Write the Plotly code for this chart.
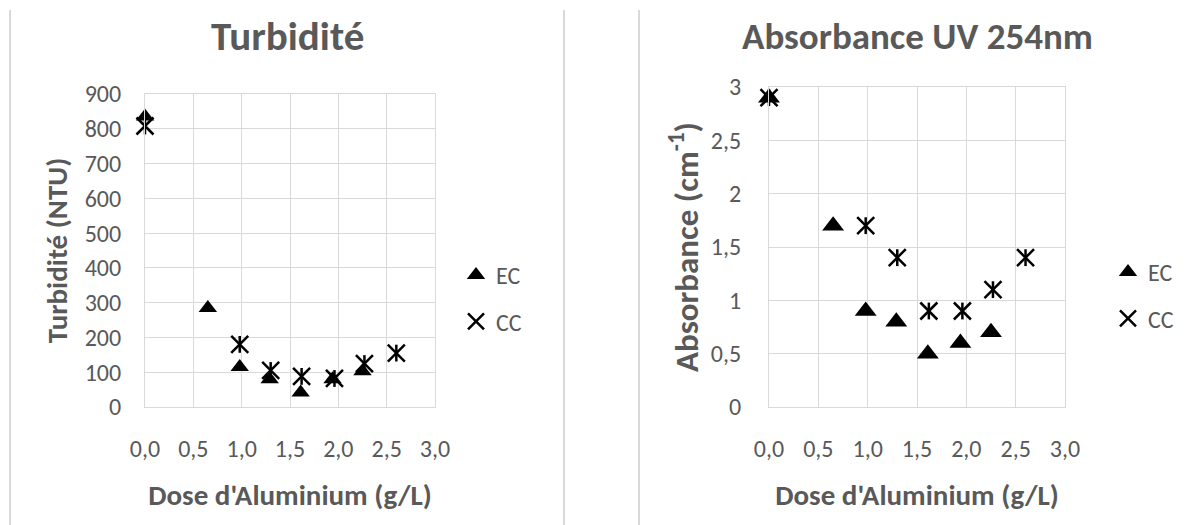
import plotly.graph_objects as go

# ---- data ----
dose_ec = [0.0, 0.65, 0.98, 1.29, 1.61, 1.94, 2.25]
dose_cc = [0.0, 0.98, 1.30, 1.62, 1.96, 2.27, 2.60]
turb_ec = [835, 285, 115, 80, 42, 80, 103]
turb_cc = [808, 180, 105, 88, 82, 125, 155]
abs_ec = [2.9, 1.7, 0.9, 0.8, 0.5, 0.6, 0.7]
abs_cc = [2.9, 1.7, 1.4, 0.9, 0.9, 1.1, 1.4]
x_ticks = [0.0, 0.5, 1.0, 1.5, 2.0, 2.5, 3.0]

W, H = 1189, 525
OFF = 8  # page body margin
GRAY = "#595959"
GRID = "#d9d9d9"
FONT = "Carlito, Open Sans, sans-serif"
TICK = 24

fig = go.Figure()

def add_series(xa, ya, leg, xs_ec, ys_ec, xs_cc, ys_cc, tri_size):
    fig.add_trace(go.Scatter(x=xs_ec, y=ys_ec, mode="markers", name="EC",
                             xaxis=xa, yaxis=ya, legend=leg, legendgroup=leg + "ec",
                             cliponaxis=False,
                             marker=dict(symbol="triangle-up", size=tri_size, color="black")))
    fig.add_trace(go.Scatter(x=xs_cc, y=ys_cc, mode="markers", name="CC",
                             xaxis=xa, yaxis=ya, legend=leg, legendgroup=leg + "cc",
                             cliponaxis=False,
                             marker=dict(symbol="x-thin-open", size=17, color="black",
                                         line=dict(color="black", width=2.5))))
    fig.add_trace(go.Scatter(x=xs_cc, y=ys_cc, mode="markers", name="CC",
                             xaxis=xa, yaxis=ya, legend=leg, legendgroup=leg + "cc",
                             showlegend=False, cliponaxis=False,
                             marker=dict(symbol="line-ns-open", size=12, color="black",
                                         line=dict(color="black", width=2.5))))

add_series("x", "y", "legend", dose_ec, turb_ec, dose_cc, turb_cc, 16)
add_series("x2", "y2", "legend2", dose_ec, abs_ec, dose_cc, abs_cc, 19)

def px_x(p):
    return (p - OFF) / W

def px_y(p):
    return 1 - (p - OFF) / H

axis_common = dict(showgrid=True, gridcolor=GRID, gridwidth=1, zeroline=False,
                   showline=True, mirror=True, linecolor=GRID, linewidth=1,
                   ticks="", automargin=False,
                   tickfont=dict(size=TICK, color=GRAY, family=FONT))

fig.update_layout(
    template="plotly_white",
    width=W, height=H,
    margin=dict(l=0, r=0, t=0, b=0),
    paper_bgcolor="white", plot_bgcolor="white",
    separators=", ",
    font=dict(family=FONT, color=GRAY),
    xaxis=dict(domain=[px_x(145), px_x(435)], range=[0, 3], tickvals=x_ticks,
               tickformat=".1f", ticklabelstandoff=20, anchor="y",
               title=dict(text="<b>Dose d'Aluminium (g/L)</b>", standoff=22,
                          font=dict(size=29, color=GRAY, family=FONT)),
               **axis_common),
    yaxis=dict(domain=[px_y(407), px_y(94)], range=[0, 900], dtick=100,
               ticklabelstandoff=18, anchor="x",
               title=dict(text="<b>Turbidité (NTU)</b>", standoff=8,
                          font=dict(size=29, color=GRAY, family=FONT)),
               **axis_common),
    xaxis2=dict(domain=[px_x(769), px_x(1065)], range=[0, 3], tickvals=x_ticks,
                tickformat=".1f", ticklabelstandoff=20, anchor="y2",
                title=dict(text="<b>Dose d'Aluminium (g/L)</b>", standoff=22,
                           font=dict(size=29, color=GRAY, family=FONT)),
                **axis_common),
    yaxis2=dict(domain=[px_y(407), px_y(87)], range=[0, 3], dtick=0.5,
                ticklabelstandoff=22, anchor="x2",
                title=dict(text="<b>Absorbance (cm<sup>-1</sup>)</b>", standoff=2,
                           font=dict(size=33, color=GRAY, family=FONT)),
                **axis_common),
    legend=dict(x=px_x(456), y=px_y(253), xanchor="left", yanchor="top",
                font=dict(size=TICK, color=GRAY, family=FONT), tracegroupgap=12,
                bgcolor="rgba(0,0,0,0)"),
    legend2=dict(x=px_x(1108), y=px_y(250), xanchor="left", yanchor="top",
                 font=dict(size=TICK, color=GRAY, family=FONT), tracegroupgap=12,
                 bgcolor="rgba(0,0,0,0)"),
    showlegend=True,
)

fig.add_annotation(text="<b>Turbidité</b>", x=px_x(287), y=px_y(36), xref="paper", yref="paper",
                   xanchor="center", yanchor="middle",
                   showarrow=False, font=dict(size=41, color=GRAY, family=FONT))
fig.add_annotation(text="<b>Absorbance UV 254nm</b>", x=px_x(917), y=px_y(36), xref="paper",
                   yref="paper", xanchor="center", yanchor="middle",
                   showarrow=False, font=dict(size=37, color=GRAY, family=FONT))

# chart area borders
for xp in (10, 564, 639):
    fig.add_shape(type="line", xref="paper", yref="paper", x0=px_x(xp), x1=px_x(xp),
                  y0=0, y1=px_y(10), line=dict(color=GRID, width=2))

fig.write_html("out.html")
